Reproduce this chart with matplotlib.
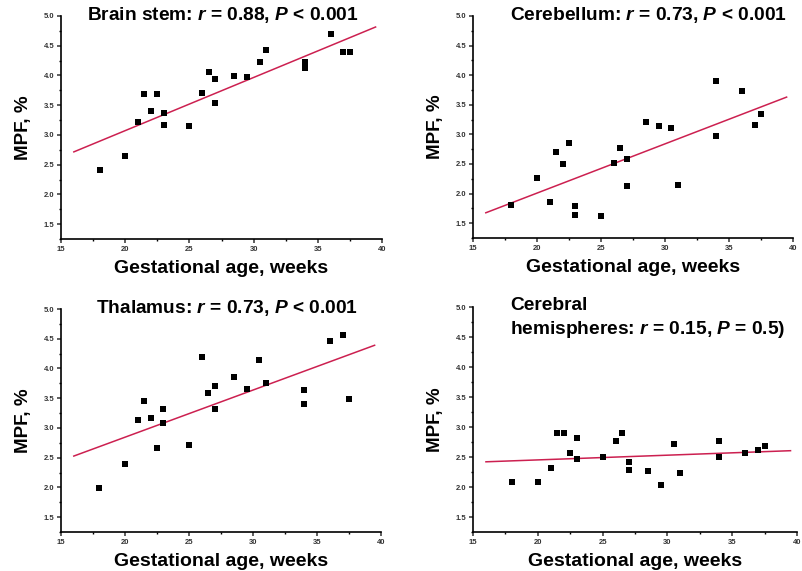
import matplotlib
matplotlib.use("Agg")
import matplotlib.pyplot as plt
from matplotlib.ticker import MultipleLocator

plt.rcParams['font.family'] = ['Liberation Sans', 'DejaVu Sans']
plt.rcParams['mathtext.fontset'] = 'custom'
plt.rcParams['mathtext.it'] = 'Liberation Sans:italic:bold'
plt.rcParams['mathtext.rm'] = 'Liberation Sans:bold'

# brain stem
stem_age = [18, 20, 21, 21.5, 22, 22.5, 23, 23, 25, 26, 26.5, 27, 27, 28.5, 29.5,
            30.5, 31, 34, 34, 36, 37, 37.5]
stem_mpf = [2.41, 2.65, 3.21, 3.68, 3.41, 3.69, 3.37, 3.16, 3.15, 3.70, 4.05, 3.94,
            3.53, 3.99, 3.97, 4.22, 4.43, 4.22, 4.12, 4.69, 4.40, 4.40]
stem_fit_x = [16, 39.5]
stem_fit_y = [2.715, 4.815]

# cerebellum
cereb_age = [18, 20, 21, 21.5, 22, 22.5, 23, 23, 25, 26, 26.5, 27, 27, 28.5, 29.5,
             30.5, 31, 34, 34, 36, 37, 37.5]
cereb_mpf = [1.80, 2.27, 1.85, 2.71, 2.50, 2.85, 1.79, 1.64, 1.63, 2.51, 2.77, 2.59,
             2.13, 3.21, 3.15, 3.11, 2.14, 3.90, 2.98, 3.73, 3.16, 3.34]
cereb_fit_x = [16, 39.5]
cereb_fit_y = [1.676, 3.63]

# thalamus
thal_age = [18, 20, 21, 21.5, 22, 22.5, 23, 23, 25, 26, 26.5, 27, 27, 28.5, 29.5,
            30.5, 31, 34, 34, 36, 37, 37.5]
thal_mpf = [1.99, 2.39, 3.14, 3.46, 3.16, 2.67, 3.32, 3.08, 2.71, 4.19, 3.58, 3.70,
            3.31, 3.85, 3.66, 4.14, 3.75, 3.63, 3.40, 4.46, 4.56, 3.49]
thal_fit_x = [16, 39.5]
thal_fit_y = [2.527, 4.39]

# cerebral hemispheres
hemi_age = [18, 20, 21, 21.5, 22, 22.5, 23, 23, 25, 26, 26.5, 27, 27, 28.5, 29.5,
            30.5, 31, 34, 34, 36, 37, 37.5]
hemi_mpf = [2.09, 2.09, 2.31, 2.90, 2.90, 2.57, 2.81, 2.46, 2.50, 2.76, 2.90, 2.42,
            2.28, 2.27, 2.04, 2.71, 2.23, 2.77, 2.50, 2.56, 2.61, 2.68]
hemi_fit_x = [16, 39.5]
hemi_fit_y = [2.42, 2.605]

W, H = 802, 571
fig = plt.figure(figsize=(W / 100, H / 100), dpi=100)


def make_axes(left, right, top, bottom):
    return fig.add_axes([left / W, 1 - bottom / H, (right - left) / W, (bottom - top) / H])


def draw_panel(ax, age, mpf, fit_x, fit_y):
    ax.plot(fit_x, fit_y, color='#cc2050', lw=1.1, zorder=2)
    ax.plot(age, mpf, 's', color='black', ms=3.9, mew=0, zorder=3)
    ax.set_xlim(15, 40)
    ax.set_ylim(1.25, 5.0)
    ax.xaxis.set_major_locator(MultipleLocator(5))
    ax.xaxis.set_minor_locator(MultipleLocator(2.5))
    ax.yaxis.set_minor_locator(MultipleLocator(0.25))
    ax.set_yticks([1.5, 2.0, 2.5, 3.0, 3.5, 4.0, 4.5, 5.0])
    ax.spines['top'].set_visible(False)
    ax.spines['right'].set_visible(False)
    ax.spines['left'].set_linewidth(1.2)
    ax.spines['bottom'].set_linewidth(1.2)
    ax.tick_params(which='major', direction='out', length=3, width=1.1,
                   labelsize=5.5, pad=2, colors='#333333')
    ax.tick_params(which='minor', direction='out', length=1.5, width=1)
    for lab in ax.get_xticklabels() + ax.get_yticklabels():
        lab.set_fontweight('bold')
    ax.yaxis.set_major_formatter(plt.FuncFormatter(lambda v, p: f"{v:.1f}"))
    ax.set_xlabel("Gestational age, weeks", fontsize=14, fontweight='bold', labelpad=5)
    ax.set_ylabel("MPF, %", fontsize=13.5, fontweight='bold', labelpad=8)
    ax.patch.set_alpha(0)


ax1 = make_axes(61, 382, 16, 239)
draw_panel(ax1, stem_age, stem_mpf, stem_fit_x, stem_fit_y)
fig.text(223 / W, 1 - 15 / H, r"Brain stem: $r$ = 0.88, $P$ < 0.001",
         ha='center', va='center', fontsize=13.8, fontweight='bold')

ax2 = make_axes(473, 793, 16, 238)
draw_panel(ax2, cereb_age, cereb_mpf, cereb_fit_x, cereb_fit_y)
fig.text(648 / W, 1 - 15 / H, r"Cerebellum: $r$ = 0.73, $P$ < 0.001",
         ha='center', va='center', fontsize=13.8, fontweight='bold')

ax3 = make_axes(61, 381, 309, 532)
draw_panel(ax3, thal_age, thal_mpf, thal_fit_x, thal_fit_y)
fig.text(227 / W, 1 - 308 / H, r"Thalamus: $r$ = 0.73, $P$ < 0.001",
         ha='center', va='center', fontsize=13.8, fontweight='bold')

ax4 = make_axes(473, 797, 307, 532)
draw_panel(ax4, hemi_age, hemi_mpf, hemi_fit_x, hemi_fit_y)
fig.text(510 / W, 1 - 305 / H, "Cerebral",
         ha='left', va='center', fontsize=13.8, fontweight='bold')
fig.text(510 / W, 1 - 330 / H, r"hemispheres: $r$ = 0.15, $P$ = 0.5)",
         ha='left', va='center', fontsize=13.8, fontweight='bold')

fig.savefig("out.png", dpi=100)
